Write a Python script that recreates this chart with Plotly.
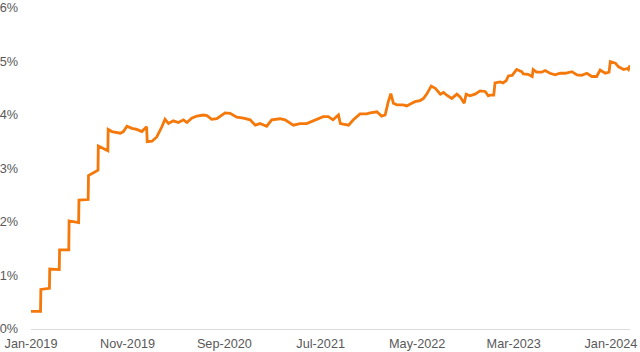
import plotly.graph_objects as go

dates = [
    "2019-01-01", "2019-01-31", "2019-02-01", "2019-02-28", "2019-03-01", "2019-03-31",
    "2019-04-01", "2019-04-30", "2019-05-01", "2019-05-31", "2019-06-01", "2019-06-30",
    "2019-07-01", "2019-07-28", "2019-07-31", "2019-08-01", "2019-08-28", "2019-08-31",
    "2019-09-01", "2019-09-13", "2019-10-09", "2019-10-19", "2019-10-30", "2019-11-15",
    "2019-11-30", "2019-12-16", "2019-12-31", "2020-01-02", "2020-01-17", "2020-02-01",
    "2020-02-17", "2020-02-27", "2020-03-09", "2020-03-24", "2020-04-09", "2020-04-25",
    "2020-05-06", "2020-05-21", "2020-06-06", "2020-06-27", "2020-07-08", "2020-07-23",
    "2020-08-08", "2020-08-24", "2020-09-03", "2020-09-19", "2020-10-10", "2020-10-31",
    "2020-11-21", "2020-12-07", "2020-12-22", "2021-01-12", "2021-01-28", "2021-02-23",
    "2021-03-11", "2021-04-06", "2021-04-27", "2021-05-18", "2021-06-13", "2021-07-09",
    "2021-07-25", "2021-08-09", "2021-08-26", "2021-09-01", "2021-09-27", "2021-10-12",
    "2021-11-02", "2021-11-23", "2021-12-04", "2021-12-25", "2022-01-09", "2022-01-20",
    "2022-01-30", "2022-02-07", "2022-02-15", "2022-02-26", "2022-03-18", "2022-03-29",
    "2022-04-14", "2022-04-24", "2022-05-10", "2022-05-21", "2022-06-01", "2022-06-14",
    "2022-06-27", "2022-07-13", "2022-07-23", "2022-08-02", "2022-08-18", "2022-09-03",
    "2022-09-13", "2022-09-26", "2022-10-02", "2022-10-14", "2022-10-30", "2022-11-15",
    "2022-12-01", "2022-12-11", "2022-12-16", "2022-12-28", "2023-01-01", "2023-01-17",
    "2023-01-26", "2023-02-05", "2023-02-12", "2023-02-24", "2023-03-10", "2023-03-26",
    "2023-03-31", "2023-04-15", "2023-04-28", "2023-05-01", "2023-05-12", "2023-05-28",
    "2023-06-08", "2023-06-23", "2023-07-09", "2023-07-25", "2023-08-10", "2023-08-31",
    "2023-09-16", "2023-10-01", "2023-10-17", "2023-11-02", "2023-11-17", "2023-11-28",
    "2023-12-14", "2023-12-26", "2023-12-30", "2024-01-15", "2024-01-25", "2024-02-10",
    "2024-02-21", "2024-02-25", "2024-03-01",
]
yields = [
    0.33, 0.33, 0.74, 0.76, 1.12, 1.11,
    1.48, 1.48, 2.02, 1.99, 2.41, 2.42,
    2.87, 2.97, 2.97, 3.42, 3.33, 3.33,
    3.73, 3.69, 3.66, 3.69, 3.79, 3.75,
    3.73, 3.69, 3.78, 3.50, 3.51, 3.59,
    3.78, 3.92, 3.84, 3.89, 3.86, 3.91,
    3.86, 3.94, 3.98, 4.00, 3.99, 3.92,
    3.93, 4.00, 4.04, 4.03, 3.96, 3.94,
    3.91, 3.81, 3.84, 3.79, 3.91, 3.93,
    3.91, 3.81, 3.84, 3.84, 3.91, 3.97,
    3.97, 3.91, 4.00, 3.84, 3.81, 3.91,
    4.02, 4.02, 4.04, 4.06, 3.98, 4.00,
    4.25, 4.40, 4.22, 4.19, 4.19, 4.17,
    4.22, 4.25, 4.27, 4.31, 4.40, 4.54,
    4.50, 4.39, 4.42, 4.37, 4.31, 4.39,
    4.34, 4.22, 4.39, 4.36, 4.39, 4.45,
    4.44, 4.36, 4.37, 4.37, 4.60, 4.62,
    4.60, 4.64, 4.73, 4.74, 4.85, 4.81,
    4.77, 4.76, 4.72, 4.85, 4.80, 4.80,
    4.83, 4.78, 4.75, 4.78, 4.78, 4.81,
    4.75, 4.74, 4.78, 4.72, 4.72, 4.84,
    4.78, 4.80, 5.00, 4.97, 4.90, 4.85,
    4.87, 4.85, 4.93,
]

tick_dates = ["2019-01-01", "2019-11-01", "2020-09-01", "2021-07-01",
              "2022-05-01", "2023-03-01", "2024-01-01"]
tick_labels = ["Jan-2019", "Nov-2019", "Sep-2020", "Jul-2021",
               "May-2022", "Mar-2023", "Jan-2024"]
y_ticks = [0, 1, 2, 3, 4, 5, 6]
y_labels = ["0%", "1%", "2%", "3%", "4%", "5%", "6%"]

fig = go.Figure()
fig.add_trace(go.Scatter(
    x=dates, y=yields, mode="lines",
    line=dict(color="#F5780A", width=2.8),
    hoverinfo="skip",
))

fig.update_layout(
    width=640, height=352,
    margin=dict(l=31, r=10, t=8, b=23),
    paper_bgcolor="white", plot_bgcolor="white",
    showlegend=False,
    font=dict(family="Liberation Sans, Arial, sans-serif", size=12.7, color="#595959"),
    xaxis=dict(
        type="date",
        range=["2019-01-01", "2024-03-01"],
        tickmode="array", tickvals=tick_dates, ticktext=tick_labels,
        showgrid=False, zeroline=False,
        showline=True, linecolor="#dcdcdc", linewidth=1,
        ticks="", ticklabelstandoff=3, automargin=False,
    ),
    yaxis=dict(
        range=[0, 6],
        tickmode="array", tickvals=y_ticks, ticktext=y_labels,
        showgrid=False, zeroline=False, showline=False,
        ticks="", ticklabelstandoff=12, automargin=False,
    ),
)

fig.write_html("out.html")
